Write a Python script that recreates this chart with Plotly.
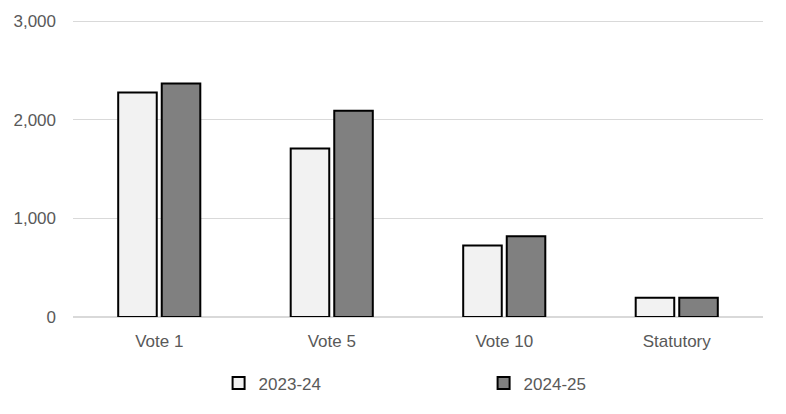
import plotly.graph_objects as go

categories = ["Vote 1", "Vote 5", "Vote 10", "Statutory"]
spend_2023_24 = [2277, 1709, 724, 196]
spend_2024_25 = [2369, 2091, 819, 196]
y_ticks = [0, 1000, 2000, 3000]

font = dict(family="Liberation Sans, Arial, sans-serif", size=17, color="#595959")

fig = go.Figure()
fig.add_trace(go.Bar(
    x=categories, y=spend_2023_24, name="2023-24",
    marker=dict(color="#f2f2f2", line=dict(color="#000000", width=2)),
))
fig.add_trace(go.Bar(
    x=categories, y=spend_2024_25, name="2024-25",
    marker=dict(color="#808080", line=dict(color="#000000", width=2)),
))

# page body has an 8px margin, so the figure is sized to sit inside the window
fig.update_layout(
    width=770, height=398,
    margin=dict(l=65, r=15, t=12, b=89, autoexpand=False),
    paper_bgcolor="white", plot_bgcolor="white",
    font=font,
    barmode="group", bargap=0.495, bargroupgap=0.115,
    showlegend=True,
    legend=dict(
        orientation="h", x=0.211, xanchor="left", y=-0.224, yanchor="middle",
        entrywidth=220, entrywidthmode="pixels",
        font=font, itemclick=False,
    ),
    xaxis=dict(showgrid=False, showline=False, ticks="", tickfont=font,
               ticklabelstandoff=12, automargin=False),
    yaxis=dict(
        range=[0, 3012], tickvals=y_ticks, tickformat=",",
        gridcolor="#d9d9d9", gridwidth=1, zeroline=True, zerolinecolor="#d9d9d9",
        showline=False, ticks="", tickfont=font, ticklabelstandoff=16,
        automargin=False,
    ),
)

fig.write_html("out.html")
